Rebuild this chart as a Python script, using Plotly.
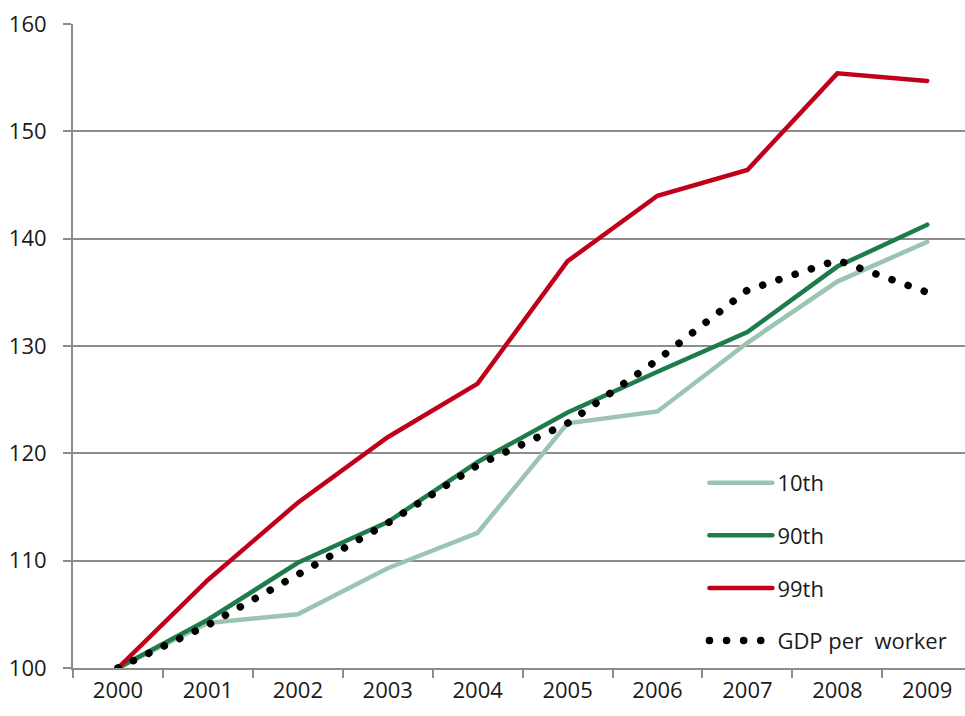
import plotly.graph_objects as go

years = ["2000", "2001", "2002", "2003", "2004", "2005", "2006", "2007", "2008", "2009"]
p10 = [100, 104.2, 105.0, 109.3, 112.6, 122.8, 123.9, 130.3, 136.0, 139.7]
p90 = [100, 104.5, 109.8, 113.6, 119.2, 123.8, 127.6, 131.3, 137.4, 141.3]
p99 = [100, 108.2, 115.4, 121.5, 126.5, 137.9, 144.0, 146.4, 155.4, 154.7]
gdp = [100, 104.0, 108.7, 113.5, 118.9, 122.8, 128.7, 135.2, 138.0, 135.0]

fig = go.Figure()
fig.add_trace(go.Scatter(x=years, y=p10, mode="lines", name="10th", legendgroup="a",
                         line=dict(color="#9cc5b1", width=4.5)))
fig.add_trace(go.Scatter(x=years, y=p90, mode="lines", name="90th", legendgroup="b",
                         line=dict(color="#1e7b4a", width=4.5)))
fig.add_trace(go.Scatter(x=years, y=p99, mode="lines", name="99th", legendgroup="c",
                         line=dict(color="#c0001a", width=4.5)))
fig.add_trace(go.Scatter(x=years, y=gdp, mode="lines", name="GDP per  worker", legendgroup="d",
                         line=dict(color="black", width=7.5, dash="0.1px,17px")))

grey = "#8c8c8c"
fig.update_layout(
    width=965, height=716,
    margin=dict(l=73, r=0, t=24, b=48),
    plot_bgcolor="white", paper_bgcolor="white",
    font=dict(family="Open Sans, Noto Sans, sans-serif", size=22, color="#1a1a1a"),
    xaxis=dict(type="category", range=[-0.5, 9.42], showline=True, linecolor=grey, linewidth=2,
               ticks="outside", tickson="boundaries", ticklen=8, tickcolor=grey, tickwidth=2,
               showgrid=False, ticklabelstandoff=2, tickfont=dict(size=22)),
    yaxis=dict(range=[100, 160], dtick=10, showline=True, linecolor=grey, linewidth=2,
               ticks="outside", ticklen=8, tickcolor=grey, tickwidth=2,
               gridcolor=grey, gridwidth=2, zeroline=False, ticklabelstandoff=12,
               tickfont=dict(size=22)),
    legend=dict(x=0.70, y=0.32, xanchor="left", yanchor="top", bgcolor="rgba(0,0,0,0)",
                traceorder="grouped", tracegroupgap=21, itemwidth=70, font=dict(size=22)),
    showlegend=True,
)

# no page margin, round caps so the dotted series draws as dots, longer legend samples
post = """
document.body.style.margin = '0';
var gd = document.getElementById('{plot_id}');
function fixLines() {
  gd.querySelectorAll('.js-line').forEach(function(p){
    p.style.strokeLinecap = 'round';
  });
  gd.querySelectorAll('.legendlines path').forEach(function(p){
    p.setAttribute('d', 'M12,0h63');
  });
}
gd.on('plotly_afterplot', fixLines);
fixLines();
setTimeout(fixLines, 50);
setTimeout(fixLines, 300);
"""
fig.write_html("out.html", post_script=post, config={"displayModeBar": False})
